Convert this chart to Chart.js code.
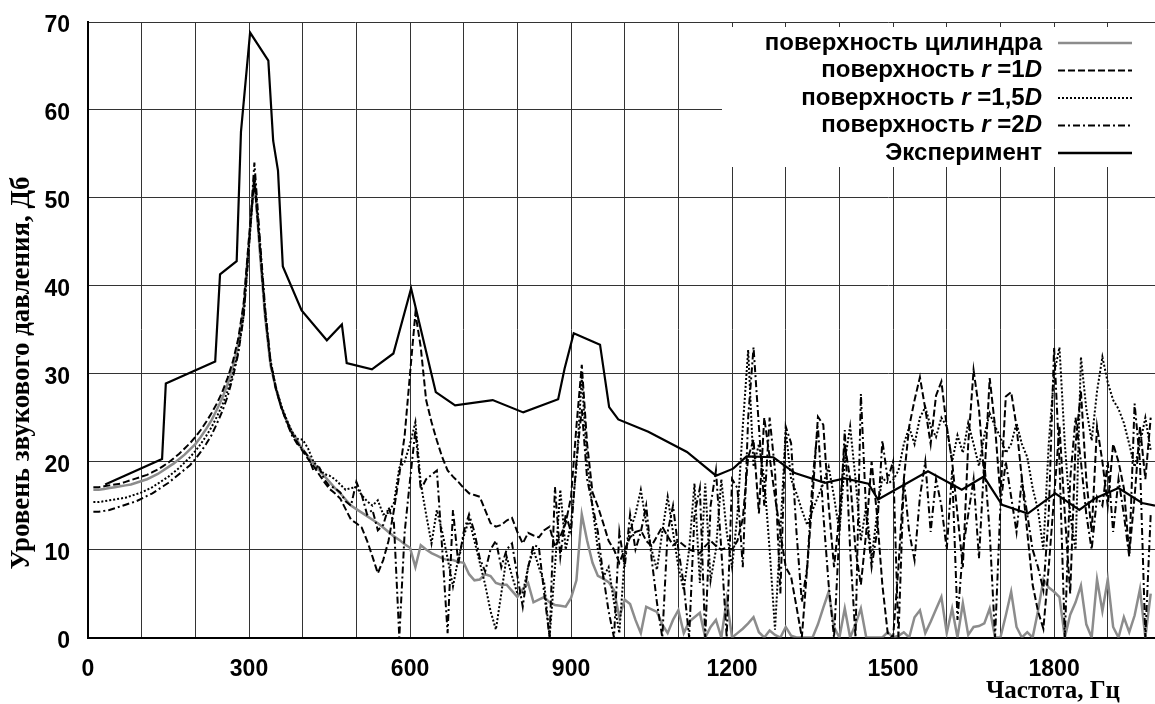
<!DOCTYPE html>
<html>
<head>
<meta charset="utf-8">
<script src="https://cdn.jsdelivr.net/npm/chart.js@4.4.1/dist/chart.umd.min.js"></script>
<style>
    body { margin: 0; background: #fff; }
    #wrap { width: 1155px; height: 704px; }
</style>
</head>
<body>
<div id="wrap"><canvas id="grafico" width="1155" height="704"></canvas></div>
<script>
// сетка расчётных частот: 10, 20, ... 1980 Гц
const freqInicio = 10;
const freqPasso = 10;

// поверхность цилиндра
const cilindro = [
    16.8, 16.8, 16.9, 17.0, 17.1, 17.2, 17.3, 17.4, 17.6, 17.8,
    18.0, 18.3, 18.6, 19.0, 19.4, 19.8, 20.3, 20.8, 21.4, 22.0,
    22.8, 23.7, 24.7, 25.9, 27.2, 28.8, 30.8, 33.4, 37.5, 45.0,
    52.5, 44.0, 36.5, 31.0, 28.3, 26.2, 24.7, 23.4, 22.4, 21.4,
    20.6, 19.8, 19.1, 18.4, 17.7, 17.0, 16.4, 15.7, 15.0, 14.6,
    14.2, 13.8, 13.4, 13.0, 12.5, 12.0, 11.5, 11.1, 10.6, 10.2,
    8.0, 10.5, 10.0, 9.6, 9.3, 9.0, 8.8, 8.8, 8.6, 8.5,
    7.2, 6.5, 6.6, 7.2, 7.0, 6.2, 6.0, 6.0, 5.3, 4.6,
    5.5, 6.2, 4.0, 4.3, 4.6, 4.0, 3.7, 3.6, 3.5, 4.5,
    6.5, 14.0, 11.0, 8.5, 7.0, 6.7, 6.3, 5.4, 2.3, 4.3,
    3.8, 2.0, 0.5, 3.5, 3.2, 2.9, 1.5, 0.5, 2.0, 3.1,
    0.5, 1.8, 2.3, 2.8, 0, 1.2, 2.0, 0, 4.3, 0,
    0.5, 1.0, 1.6, 2.3, 0.6, 0, 0.8, 0.3, 0, 1.2,
    0.2, 0, 0, 0, 0, 1.5, 3.4, 5.2, 1.2, 0,
    3.3, 0, 1.5, 3.3, 0, 0, 0, 0, 0.6, 0,
    0.2, 0.6, 0, 2.3, 3.1, 0.5, 1.8, 3.2, 4.6, 0.5,
    3.3, 0, 3.9, 0.3, 1.2, 1.3, 1.6, 3.3, 0, 0,
    2.5, 5.2, 1.2, 0, 0.6, 0, 3.0, 6.6, 5.7, 5.2,
    4.6, 0, 2.6, 4.0, 5.9, 1.5, 0, 6.6, 3.0, 6.6,
    1.2, 0, 2.3, 0.6, 2.5, 5.5, 0, 5.0
];

// поверхность r = 1D
const r1D = [
    17.1, 17.1, 17.2, 17.3, 17.4, 17.5, 17.7, 17.9, 18.1, 18.3,
    18.5, 18.8, 19.1, 19.5, 19.9, 20.4, 20.9, 21.5, 22.1, 22.8,
    23.6, 24.5, 25.5, 26.6, 27.9, 29.5, 31.4, 34.0, 38.0, 45.5,
    52.0, 44.5, 36.8, 31.2, 28.3, 26.2, 24.6, 23.2, 22.2, 21.2,
    20.3, 19.5, 18.6, 17.7, 16.9, 16.4, 15.8, 14.6, 13.4, 13.0,
    12.5, 11.0, 9.2, 7.3, 8.8, 11.0, 14.5, 18.5, 23.0, 30.0,
    36.9, 33.0, 27.0, 24.5, 22.4, 20.5, 19.0, 18.3, 17.7, 17.0,
    16.4, 16.2, 16.0, 14.5, 13.0, 12.6, 12.8, 13.3, 13.6, 12.0,
    10.7, 11.9, 11.6, 11.4, 12.2, 12.6, 10.3, 11.5, 13.0, 16.0,
    24.0, 31.0, 22.0, 16.5, 14.9, 13.0, 11.0, 10.0, 8.5, 10.0,
    11.4, 12.0, 12.2, 11.0, 10.4, 11.5, 12.6, 11.5, 10.5, 11.0,
    10.5, 10.0, 9.8, 9.6, 10.4, 11.0, 10.4, 10.0, 10.2, 10.0,
    11.0, 13.5, 20.5, 22.5, 14.1, 25.0, 20.5, 16.0, 12.0, 8.0,
    6.9, 3.5, 0, 8.0, 16.0, 25.1, 24.2, 15.0, 8.0, 14.0,
    22.0, 18.0, 10.0, 6.0, 12.0, 20.0, 14.0, 6.0, 0.5, 0,
    8.0, 18.0, 24.0, 27.0, 29.6, 26.0, 22.0, 27.5, 29.1, 24.0,
    20.0, 14.0, 8.0, 22.0, 30.4, 26.0, 18.0, 29.5, 24.0, 16.0,
    27.4, 27.9, 24.0, 18.0, 12.0, 6.0, 3.0, 1.0, 8.0, 16.0,
    24.0, 14.0, 5.0, 22.0, 28.0, 18.0, 12.0, 24.0, 20.0, 15.0,
    22.0, 20.0, 17.0, 9.5, 16.0, 24.0, 18.0, 25.0
];

// поверхность r = 1,5D
const r15D = [
    15.4, 15.4, 15.5, 15.6, 15.7, 15.8, 15.9, 16.1, 16.3, 16.5,
    16.8, 17.1, 17.5, 17.9, 18.3, 18.8, 19.3, 19.9, 20.5, 21.2,
    22.0, 22.9, 23.9, 25.1, 26.4, 28.0, 30.0, 32.6, 36.6, 44.5,
    52.5, 45.0, 37.0, 31.5, 28.5, 26.4, 24.8, 23.4, 22.6, 22.5,
    21.5, 20.0, 19.3, 18.6, 18.4, 18.0, 17.4, 16.8, 17.0, 17.1,
    16.2, 15.5, 15.0, 15.6, 14.0, 14.2, 15.3, 19.3, 20.0, 22.0,
    24.5, 17.5, 14.0, 10.7, 14.5, 12.0, 9.0, 5.8, 9.0, 11.5,
    13.4, 11.0, 8.5, 6.0, 3.0, 0.9, 5.0, 9.2, 7.0, 5.0,
    5.0, 8.0, 10.0, 8.0, 6.2, 0, 8.0, 16.8, 10.0, 13.0,
    19.4, 29.6, 20.0, 14.8, 10.0, 6.9, 8.0, 4.0, 0.5, 9.2,
    12.2, 14.0, 16.8, 13.0, 10.0, 7.7, 12.0, 16.0, 12.0, 8.0,
    5.4, 10.0, 17.5, 6.2, 17.5, 6.5, 10.0, 18.0, 12.0, 8.0,
    14.0, 24.0, 32.7, 19.4, 22.0, 18.0, 10.0, 0.9, 12.0, 23.6,
    18.0, 16.4, 14.5, 12.8, 14.5, 16.0, 17.5, 19.4, 16.0, 12.0,
    20.0, 24.0, 18.0, 11.0, 15.0, 9.0, 14.0, 18.2, 17.5, 17.9,
    19.0, 22.0, 23.9, 22.0, 25.0, 26.2, 24.0, 22.8, 25.0, 24.0,
    20.0, 23.0, 21.0, 24.4, 22.0, 19.5, 23.0, 25.5, 24.0, 22.8,
    21.0, 22.0, 24.4, 22.0, 20.5, 17.0, 14.5, 10.0, 22.0, 30.0,
    33.0, 22.0, 14.0, 10.0, 31.9, 26.0, 22.4, 28.0, 31.9, 29.0,
    27.0, 26.0, 24.4, 22.0, 19.4, 22.0, 25.0, 21.3
];

// поверхность r = 2D
const r2D = [
    14.3, 14.3, 14.4, 14.5, 14.7, 14.9, 15.1, 15.3, 15.5, 15.8,
    16.1, 16.4, 16.8, 17.2, 17.6, 18.1, 18.6, 19.1, 19.6, 20.3,
    21.1, 22.0, 23.0, 24.3, 25.7, 27.4, 29.6, 32.3, 36.5, 44.5,
    54.0, 45.5, 37.5, 31.5, 28.4, 26.2, 24.5, 23.0, 22.0, 21.4,
    20.6, 19.0, 19.5, 18.0, 17.2, 17.0, 16.5, 15.5, 15.0, 17.7,
    16.2, 14.0, 14.5, 12.2, 12.8, 14.8, 13.0, 0, 12.0, 17.9,
    23.6, 16.8, 18.0, 18.5, 19.0, 10.0, 0.5, 14.5, 8.4, 12.0,
    14.0, 12.0, 9.0, 7.5, 10.0, 11.0, 8.0, 10.0, 10.7, 7.0,
    3.5, 8.0, 10.5, 10.3, 5.0, 0, 17.1, 9.2, 14.0, 12.0,
    20.0, 26.0, 18.0, 15.0, 12.0, 7.0, 3.0, 0, 12.0, 8.0,
    14.0, 10.0, 12.0, 15.0, 9.0, 4.0, 0, 12.0, 15.0, 10.0,
    6.0, 0, 14.0, 17.0, 0, 15.0, 19.0, 10.0, 0, 18.0,
    17.0, 8.0, 25.0, 33.0, 24.0, 15.0, 25.0, 19.0, 5.0, 24.0,
    22.1, 12.0, 4.0, 8.0, 18.0, 24.0, 14.0, 6.0, 0, 12.0,
    23.6, 10.0, 0, 27.7, 14.0, 8.0, 12.0, 22.4, 18.0, 20.0,
    0, 18.0, 12.0, 8.8, 16.0, 20.0, 12.0, 18.0, 15.0, 10.0,
    19.0, 2.0, 10.0, 14.0, 18.0, 9.0, 20.0, 12.0, 0, 15.0,
    20.0, 16.0, 12.0, 18.0, 14.0, 10.0, 8.0, 5.4, 14.0, 33.0,
    20.0, 0, 18.0, 25.0, 20.0, 14.0, 10.0, 16.0, 15.0, 20.0,
    12.0, 18.0, 14.0, 9.2, 26.6, 20.0, 0, 14.0
];

// эксперимент
const expFreq = [32, 138, 145, 237, 246, 277, 285, 302, 336, 345, 354, 363, 398, 445, 473, 482,
    529, 569, 602, 648, 684, 754, 811, 876, 888, 905, 954, 971, 988, 1044, 1116, 1170,
    1202, 1227, 1277, 1317, 1373, 1410, 1454, 1472, 1565, 1628, 1669, 1703, 1751, 1802,
    1847, 1876, 1920, 1964, 1988];
const expNivel = [17.4, 20.3, 28.9, 31.4, 41.3, 42.8, 57.5, 68.8, 65.6, 56.5, 53.1, 42.2, 37.2, 33.8, 35.6, 31.2,
    30.5, 32.3, 39.7, 27.9, 26.4, 27.0, 25.6, 27.1, 30.6, 34.6, 33.3, 26.2, 24.8, 23.4, 21.1, 18.4,
    19.2, 20.6, 20.5, 18.7, 17.6, 18.1, 17.5, 15.7, 18.9, 16.8, 18.3, 15.1, 14.1, 16.4,
    14.5, 15.8, 17.0, 15.3, 15.0];

const rotulosX = [0, 300, 600, 900, 1200, 1500, 1800];

const freqs = cilindro.map((v, i) => freqInicio + i * freqPasso);
const pontos = (xs, ys) => ys.map((y, i) => ({ x: xs[i], y: y }));

const legendaItens = [
    { partes: [['поверхность цилиндра', false]], cor: '#8c8c8c', dash: [], largura: 2.5 },
    { partes: [['поверхность ', false], ['r', true], [' =1', false], ['D', true]], cor: '#000', dash: [7, 3], largura: 2 },
    { partes: [['поверхность ', false], ['r', true], [' =1,5', false], ['D', true]], cor: '#000', dash: [2, 2], largura: 2 },
    { partes: [['поверхность ', false], ['r', true], [' =2', false], ['D', true]], cor: '#000', dash: [7, 3, 2, 3], largura: 2 },
    { partes: [['Эксперимент', false]], cor: '#000', dash: [], largura: 2.5 }
];

const fonteLegenda = (italico) => (italico ? 'italic ' : '') + 'bold 24px "Liberation Sans", Arial, sans-serif';

const pluginLegenda = {
    id: 'legendaCustom',
    afterDatasetsDraw(chart) {
        const c = chart.ctx;
        c.save();
        c.fillStyle = '#fff';
        c.fillRect(722, 27, 433, 140);
        c.textBaseline = 'middle';
        c.textAlign = 'left';
        legendaItens.forEach((item, i) => {
            const y = 43 + i * 27.5;
            let total = 0;
            item.partes.forEach(([t, it]) => { c.font = fonteLegenda(it); total += c.measureText(t).width; });
            let x = 1042 - total;
            c.fillStyle = '#000';
            item.partes.forEach(([t, it]) => {
                c.font = fonteLegenda(it);
                c.fillText(t, x, y);
                x += c.measureText(t).width;
            });
            c.beginPath();
            c.setLineDash(item.dash);
            c.strokeStyle = item.cor;
            c.lineWidth = item.largura;
            c.moveTo(1058, y);
            c.lineTo(1132, y);
            c.stroke();
        });
        c.restore();
    },
    afterDraw(chart) {
        const c = chart.ctx;
        c.save();
        c.fillStyle = '#000';
        c.textAlign = 'center';
        c.textBaseline = 'middle';
        // подпись оси Y
        c.translate(22, 373);
        c.rotate(-Math.PI / 2);
        c.font = 'bold 28px "Liberation Serif", "Times New Roman", serif';
        c.fillText('Уровень звукового давления, Дб', 0, 0, 393);
        c.restore();
        c.save();
        c.fillStyle = '#000';
        c.textAlign = 'center';
        c.textBaseline = 'middle';
        c.font = 'bold 25px "Liberation Serif", "Times New Roman", serif';
        c.fillText('Частота, Гц', 1053, 692, 135);
        c.restore();
    }
};

const ctx = document.getElementById('grafico').getContext('2d');

const grafico = new Chart(ctx, {
    type: 'line',
    data: {
        datasets: [
            {
                label: 'Эксперимент',
                data: pontos(expFreq, expNivel),
                borderColor: '#000',
                borderWidth: 2.2,
                order: 0
            },
            {
                label: 'поверхность r =1D',
                data: pontos(freqs, r1D),
                borderColor: '#000',
                borderWidth: 2,
                borderDash: [7, 3],
                order: 1
            },
            {
                label: 'поверхность r =1,5D',
                data: pontos(freqs, r15D),
                borderColor: '#000',
                borderWidth: 2,
                borderDash: [2, 2],
                order: 2
            },
            {
                label: 'поверхность r =2D',
                data: pontos(freqs, r2D),
                borderColor: '#000',
                borderWidth: 2,
                borderDash: [7, 3, 2, 3],
                order: 3
            },
            {
                label: 'поверхность цилиндра',
                data: pontos(freqs, cilindro),
                borderColor: '#8c8c8c',
                borderWidth: 2.5,
                order: 4
            }
        ]
    },
    options: {
        responsive: false,
        animation: false,
        layout: { padding: { top: 22, right: 0, left: 0, bottom: 0 } },
        elements: {
            point: { radius: 0 },
            line: { tension: 0, fill: false }
        },
        plugins: {
            legend: { display: false },
            tooltip: { enabled: false }
        },
        scales: {
            x: {
                type: 'linear',
                min: 0,
                max: 1988,
                afterFit: (s) => { s.height = 66.5; s.paddingLeft = 0; s.paddingRight = 0; },
                border: { color: '#000', width: 2 },
                grid: { color: '#333', lineWidth: 1, drawTicks: false },
                ticks: {
                    stepSize: 100,
                    autoSkip: false,
                    includeBounds: false,
                    maxRotation: 0,
                    padding: 18,
                    color: '#000',
                    font: { family: '"Liberation Sans", Arial, sans-serif', size: 23, weight: 'bold' },
                    callback: (v) => rotulosX.includes(v) ? String(v) : ''
                }
            },
            y: {
                min: 0,
                max: 70,
                afterFit: (s) => { s.width = 88; s.paddingTop = 0; s.paddingBottom = 0; },
                border: { color: '#000', width: 2 },
                grid: { color: '#333', lineWidth: 1, drawTicks: false },
                ticks: {
                    stepSize: 10,
                    padding: 18,
                    labelOffset: 4,
                    color: '#000',
                    font: { family: '"Liberation Sans", Arial, sans-serif', size: 23, weight: 'bold' }
                }
            }
        }
    },
    plugins: [pluginLegenda]
});
</script>
</body>
</html>
